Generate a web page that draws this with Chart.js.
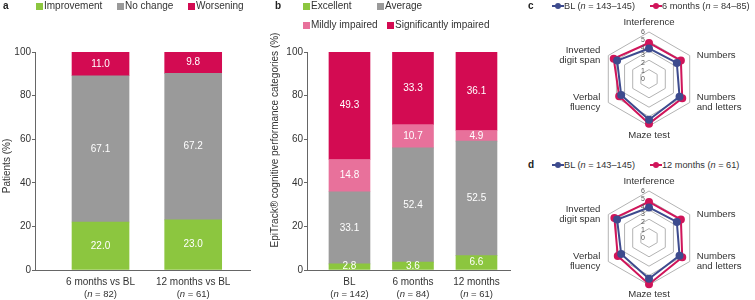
<!DOCTYPE html>
<html>
<head>
<meta charset="utf-8">
<script src="https://cdn.jsdelivr.net/npm/chart.js@4.4.1/dist/chart.umd.min.js"></script>
<style>
  body { margin: 0; background: #fff; }
  #page { position: relative; width: 755px; height: 300px; overflow: hidden; font-family: "Liberation Sans", Arial, sans-serif; color: #333; font-size: 10px; }
  canvas { position: absolute; }
  .tag { position: absolute; font-weight: bold; font-size: 10px; line-height: 12px; color: #222; }
  .leg { position: absolute; line-height: 12px; white-space: nowrap; }
  .leg.small { font-size: 9.2px; }
  .sq { position: absolute; width: 7px; height: 7px; }
  .mk { position: absolute; width: 12px; height: 2px; }
  .mk i { position: absolute; left: 3px; top: -2px; width: 6px; height: 6px; border-radius: 50%; background: inherit; }
</style>
</head>
<body>
<div id="page">
  <canvas id="chartA" width="255" height="300" style="left:0;top:0"></canvas>
  <canvas id="chartB" width="247" height="300" style="left:268px;top:0"></canvas>
  <canvas id="chartC" width="215" height="130" style="left:540px;top:14px"></canvas>
  <canvas id="chartD" width="215" height="124" style="left:540px;top:176px"></canvas>
  <div class="tag" style="left:3px;top:0">a</div>
  <div class="tag" style="left:275px;top:0">b</div>
  <div class="tag" style="left:528px;top:0">c</div>
  <div class="tag" style="left:528px;top:159px">d</div>
</div>
<script>
// panel a
let changeCats = ["6 months vs BL", "12 months vs BL"];
let changeN = [82, 61];
let changeNames = ["Improvement", "No change", "Worsening"];
let improvement = [22.0, 23.0];
let noChange = [67.1, 67.2];
let worsening = [11.0, 9.8];

// panel b
let visitCats = ["BL", "6 months", "12 months"];
let visitN = [142, 84, 61];
let perfNames = ["Excellent", "Average", "Mildly impaired", "Significantly impaired"];
let excellent = [2.8, 3.6, 6.6];
let average = [33.1, 52.4, 52.5];
let mildly = [14.8, 10.7, 4.9];
let significantly = [49.3, 33.3, 36.1];

// panels c, d
let radarLabels = ["Interference", "Numbers", ["Numbers", "and letters"], "Maze test", ["Verbal", "fluency"], ["Inverted", "digit span"]];
let radarTicks = [0, 1, 2, 3, 4, 5, 6];
let blValues = [3.9, 4.1, 4.5, 5.2, 4.1, 4.7];
let sixMonthValues = [4.6, 4.7, 4.9, 5.7, 4.4, 5.2];
let twelveMonthValues = [4.6, 4.7, 4.9, 5.9, 4.6, 5.1];

let green = "#8cc63f";
let gray = "#9a9a9a";
let crimson = "#d30b52";
let pink = "#e8719b";
let blue = "#3d4b8e";
let radarPink = "#d0155a";
let font = '"Liberation Sans", Arial, sans-serif';

Chart.defaults.font.family = font;
Chart.defaults.font.size = 10;
Chart.defaults.color = "#333";

let page = document.querySelector("#page");

function addSquare(left, top, color, text) {
  let sq = document.createElement("div");
  sq.className = "sq";
  sq.style.left = left + "px";
  sq.style.top = (top - 3) + "px";
  sq.style.background = color;
  page.appendChild(sq);
  let t = document.createElement("div");
  t.className = "leg";
  t.style.left = (left + 8) + "px";
  t.style.top = (top - 6) + "px";
  t.textContent = text;
  page.appendChild(t);
}

function addMarker(left, top, color, name, n) {
  let mk = document.createElement("div");
  mk.className = "mk";
  mk.style.left = left + "px";
  mk.style.top = (top - 1) + "px";
  mk.style.background = color;
  mk.appendChild(document.createElement("i"));
  page.appendChild(mk);
  let t = document.createElement("div");
  t.className = "leg small";
  t.style.left = (left + 12) + "px";
  t.style.top = (top - 6) + "px";
  t.innerHTML = name + " (<i>n</i> = " + n + ")";
  page.appendChild(t);
}

// legends
addSquare(36, 6, green, changeNames[0]);
addSquare(117, 6, gray, changeNames[1]);
addSquare(188, 6, crimson, changeNames[2]);
addSquare(303, 6, green, perfNames[0]);
addSquare(377, 6, gray, perfNames[1]);
addSquare(303, 25, pink, perfNames[2]);
addSquare(387, 25, crimson, perfNames[3]);
addMarker(552, 6, blue, "BL", "143–145");
addMarker(650, 6, radarPink, "6 months", "84–85");
addMarker(552, 165, blue, "BL", "143–145");
addMarker(650, 165, radarPink, "12 months", "61");

// white value text in the middle of each bar piece
let barValues = {
  id: "barValues",
  afterDatasetsDraw(chart) {
    let ctx = chart.ctx;
    ctx.save();
    ctx.font = "10px " + font;
    ctx.fillStyle = "#fff";
    ctx.textAlign = "center";
    ctx.textBaseline = "middle";
    chart.data.datasets.forEach((ds, i) => {
      chart.getDatasetMeta(i).data.forEach((bar, j) => {
        ctx.fillText(ds.data[j].y.toFixed(1), bar.x, (bar.y + bar.base) / 2);
      });
    });
    ctx.restore();
  }
};

// rotated y title and the "(n = ..)" second line under each category
let extraText = {
  id: "extraText",
  afterDraw(chart, args, opts) {
    let ctx = chart.ctx;
    ctx.save();
    ctx.fillStyle = "#333";
    ctx.textBaseline = "middle";
    ctx.textAlign = "left";
    let xs = chart.scales.x;
    let plain = "9.5px " + font;
    let ital = "italic 9.5px " + font;
    opts.counts.forEach((n, i) => {
      let parts = [["(", plain], ["n", ital], [" = " + n + ")", plain]];
      let w = 0;
      parts.forEach((p) => { ctx.font = p[1]; w += ctx.measureText(p[0]).width; });
      let x = xs.getPixelForValue(i) - w / 2;
      parts.forEach((p) => {
        ctx.font = p[1];
        ctx.fillText(p[0], x, xs.top + 24);
        x += ctx.measureText(p[0]).width;
      });
    });
    ctx.translate(opts.x, opts.y);
    ctx.rotate(-Math.PI / 2);
    ctx.font = "10px " + font;
    ctx.textAlign = "center";
    ctx.fillText(opts.text, 0, 0);
    ctx.restore();
  }
};

function barChart(id, cats, counts, series, names, colors, xMin, xMax, thickness, yWidth, title, titleY) {
  return new Chart(document.getElementById(id), {
    type: "bar",
    data: {
      datasets: series.map((vals, k) => ({
        label: names[k],
        data: vals.map((v, i) => ({ x: i, y: v })),
        backgroundColor: colors[k],
        barThickness: thickness,
        stack: "all",
        borderWidth: 0
      }))
    },
    options: {
      responsive: false,
      animation: false,
      layout: { padding: { top: 52, right: 5, bottom: 0, left: 0 } },
      plugins: {
        legend: { display: false },
        tooltip: { enabled: false },
        extraText: { text: title, x: 7, y: titleY, counts: counts }
      },
      scales: {
        x: {
          type: "linear",
          offset: false,
          min: xMin,
          max: xMax,
          grid: { display: false, drawTicks: false, offset: false },
          border: { color: "#666" },
          afterBuildTicks: (ax) => { ax.ticks = cats.map((c, i) => ({ value: i })); },
          afterFit: (ax) => { ax.height = 30; },
          ticks: { autoSkip: false, maxRotation: 0, padding: 6, callback: (v) => cats[v] }
        },
        y: {
          stacked: true,
          min: 0,
          max: 100,
          ticks: { stepSize: 20, padding: 1 },
          grid: { drawOnChartArea: false, tickLength: 3, color: "#666" },
          border: { color: "#666" },
          afterFit: (ax) => { ax.width = yWidth; }
        }
      }
    },
    plugins: [barValues, extraText]
  });
}

barChart("chartA", changeCats, changeN, [improvement, noChange, worsening], changeNames,
  [green, gray, crimson], -0.707, 1.613, 57, 35, "Patients (%)", 166);
barChart("chartB", visitCats, visitN, [excellent, average, mildly, significantly], perfNames,
  [green, gray, pink, crimson], -0.669, 2.528, 41, 39,
  "EpiTrack® cognitive performance categories (%)", 140);

// point labels and the small 0-6 ticks of the radars
let radarText = {
  id: "radarText",
  afterDraw(chart) {
    let sc = chart.scales.r;
    let ctx = chart.ctx;
    ctx.save();
    ctx.font = "7px " + font;
    ctx.fillStyle = "#555";
    ctx.textAlign = "center";
    ctx.textBaseline = "middle";
    radarTicks.forEach((v) => {
      ctx.fillText(v, sc.xCenter - 6, sc.yCenter - sc.getDistanceFromCenterForValue(v));
    });
    ctx.font = "9.6px " + font;
    ctx.fillStyle = "#333";
    chart.data.labels.forEach((lab, i) => {
      let p = sc.getPointPosition(i, sc.drawingArea);
      let lines = Array.isArray(lab) ? lab : [lab];
      let x = p.x;
      let y = p.y - (lines.length - 1) * 5;
      if (i === 0) { ctx.textAlign = "center"; y = p.y - 10; }
      else if (i === 3) { ctx.textAlign = "center"; y = p.y + 9; }
      else if (i < 3) { ctx.textAlign = "left"; x = p.x + 7; }
      else { ctx.textAlign = "right"; x = p.x - 8; }
      lines.forEach((line, k) => ctx.fillText(line, x, y + k * 10));
    });
    ctx.restore();
  }
};

function radarChart(id, pad, sets) {
  return new Chart(document.getElementById(id), {
    type: "radar",
    data: {
      labels: radarLabels,
      datasets: sets.map((s) => ({
        label: s.label,
        data: s.data,
        borderColor: s.color,
        backgroundColor: s.color,
        pointBackgroundColor: s.color,
        pointBorderColor: s.color,
        borderWidth: 2,
        pointRadius: 3,
        fill: false
      }))
    },
    options: {
      responsive: false,
      animation: false,
      layout: { padding: pad },
      plugins: { legend: { display: false }, tooltip: { enabled: false } },
      scales: {
        r: {
          min: 0,
          max: 6,
          ticks: { display: false, stepSize: 1.2 },
          pointLabels: { display: false },
          angleLines: { display: false },
          grid: { color: "#b3b3b3", lineWidth: 1 }
        }
      }
    },
    plugins: [radarText]
  });
}

radarChart("chartC", { left: 62, right: 59, top: 18, bottom: 18 }, [
  { label: "BL", data: blValues, color: blue },
  { label: "6 months", data: sixMonthValues, color: radarPink }
]);
radarChart("chartD", { left: 62, right: 59, top: 15, bottom: 15 }, [
  { label: "BL", data: blValues, color: blue },
  { label: "12 months", data: twelveMonthValues, color: radarPink }
]);
</script>
</body>
</html>
